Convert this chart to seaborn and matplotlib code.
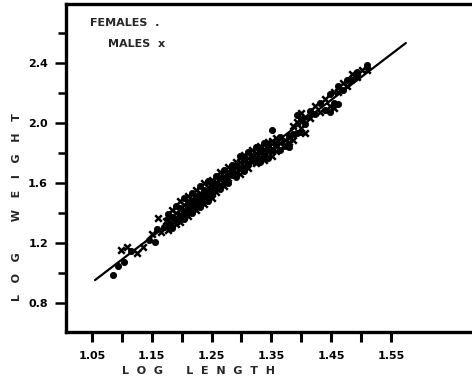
import matplotlib
matplotlib.use("Agg")
import matplotlib.pyplot as plt
import seaborn as sns
import pandas as pd

# ---- data ----
female_len = [1.085, 1.115, 1.104, 1.093, 1.145, 1.159, 1.155, 1.170,
              1.177, 1.177, 1.184, 1.184, 1.190, 1.190, 1.197, 1.197,
              1.204, 1.204, 1.204, 1.211, 1.211, 1.217, 1.217, 1.217,
              1.224, 1.224, 1.231, 1.231, 1.231, 1.237, 1.237, 1.244,
              1.244, 1.244, 1.251, 1.251, 1.257, 1.257, 1.264, 1.264,
              1.271, 1.271, 1.277, 1.277, 1.284, 1.284, 1.291, 1.291,
              1.297, 1.297, 1.304, 1.304, 1.311, 1.311, 1.318, 1.324,
              1.324, 1.331, 1.331, 1.338, 1.338, 1.344, 1.344, 1.351,
              1.351, 1.358, 1.364, 1.364, 1.373, 1.379, 1.379, 1.386,
              1.393, 1.393, 1.399, 1.399, 1.406, 1.415, 1.423, 1.431,
              1.440, 1.448, 1.448, 1.455, 1.461, 1.461, 1.470, 1.476,
              1.485, 1.493, 1.510]
female_wt = [0.987, 1.147, 1.073, 1.047, 1.220, 1.293, 1.207, 1.307,
             1.393, 1.313, 1.373, 1.300, 1.447, 1.360, 1.433, 1.360,
             1.500, 1.413, 1.360, 1.473, 1.407, 1.533, 1.460, 1.400,
             1.513, 1.447, 1.580, 1.500, 1.440, 1.553, 1.487, 1.613,
             1.540, 1.480, 1.587, 1.520, 1.647, 1.573, 1.633, 1.560,
             1.687, 1.613, 1.667, 1.600, 1.720, 1.653, 1.713, 1.640,
             1.780, 1.700, 1.753, 1.680, 1.807, 1.727, 1.780, 1.840,
             1.760, 1.813, 1.740, 1.867, 1.787, 1.840, 1.767, 1.953,
             1.820, 1.853, 1.907, 1.820, 1.847, 1.913, 1.840, 1.927,
             2.053, 1.933, 2.027, 1.940, 1.993, 2.080, 2.060, 2.133,
             2.087, 2.193, 2.073, 2.133, 2.247, 2.127, 2.220, 2.287,
             2.287, 2.340, 2.387]
male_len = [1.098, 1.109, 1.125, 1.135, 1.150, 1.160, 1.165, 1.174,
            1.177, 1.177, 1.184, 1.184, 1.190, 1.190, 1.197, 1.197,
            1.197, 1.204, 1.204, 1.211, 1.211, 1.211, 1.217, 1.217,
            1.224, 1.224, 1.224, 1.231, 1.231, 1.237, 1.237, 1.237,
            1.244, 1.244, 1.251, 1.251, 1.251, 1.257, 1.257, 1.264,
            1.264, 1.271, 1.271, 1.277, 1.277, 1.284, 1.291, 1.291,
            1.297, 1.297, 1.304, 1.304, 1.311, 1.311, 1.318, 1.318,
            1.324, 1.324, 1.331, 1.331, 1.338, 1.338, 1.344, 1.344,
            1.351, 1.351, 1.358, 1.358, 1.364, 1.373, 1.379, 1.386,
            1.386, 1.393, 1.399, 1.399, 1.406, 1.406, 1.415, 1.423,
            1.431, 1.440, 1.448, 1.455, 1.455, 1.461, 1.470, 1.476,
            1.485, 1.493, 1.502, 1.510]
male_wt = [1.153, 1.173, 1.133, 1.173, 1.260, 1.367, 1.273, 1.347,
           1.353, 1.287, 1.420, 1.327, 1.400, 1.327, 1.480, 1.393,
           1.340, 1.453, 1.380, 1.513, 1.440, 1.380, 1.493, 1.427,
           1.553, 1.480, 1.420, 1.533, 1.467, 1.600, 1.520, 1.460,
           1.573, 1.507, 1.620, 1.553, 1.500, 1.607, 1.540, 1.673,
           1.593, 1.647, 1.580, 1.707, 1.633, 1.687, 1.740, 1.673,
           1.740, 1.660, 1.787, 1.713, 1.767, 1.700, 1.820, 1.740,
           1.800, 1.733, 1.847, 1.773, 1.827, 1.753, 1.873, 1.807,
           1.880, 1.780, 1.900, 1.813, 1.867, 1.887, 1.873, 1.980,
           1.887, 2.007, 2.067, 1.967, 2.040, 1.933, 2.033, 2.113,
           2.073, 2.160, 2.113, 2.207, 2.100, 2.207, 2.267, 2.247,
           2.327, 2.307, 2.353, 2.353]
fit_len = [1.055, 1.575]
fit_wt = [0.953, 2.533]

x_major = [1.05, 1.15, 1.25, 1.35, 1.45, 1.55]
x_major_labels = ["1.05", "1.15", "1.25", "1.35", "1.45", "1.55"]
x_minor = [1.10, 1.20, 1.30, 1.40, 1.50]
y_major = [0.8, 1.2, 1.6, 2.0, 2.4]
y_major_labels = ["0.8", "1.2", "1.6", "2.0", "2.4"]
y_minor = [1.0, 1.4, 1.8, 2.2, 2.6]

females = pd.DataFrame({"len": female_len, "wt": female_wt})
males = pd.DataFrame({"len": male_len, "wt": male_wt})
fit = pd.DataFrame({"len": fit_len, "wt": fit_wt})

sns.set_style("ticks")
plt.rcParams["font.family"] = ["DejaVu Sans"]
plt.rcParams["font.weight"] = "bold"

W, H = 472, 383
fig = plt.figure(figsize=(W / 100, H / 100), dpi=100)
ax = fig.add_axes([66 / W, 1 - 332 / H, 411 / W, 328 / H])

sns.scatterplot(data=females, x="len", y="wt", ax=ax, marker="o", s=20,
                color="black", edgecolor="black", linewidth=0.6, legend=False)
sns.scatterplot(data=males, x="len", y="wt", ax=ax, marker="x", s=22,
                color="black", linewidth=1.8, legend=False)
sns.lineplot(data=fit, x="len", y="wt", ax=ax, color="black", linewidth=1.6,
             legend=False)

ax.set_xlim(1.0065, 1.694)
ax.set_ylim(0.607, 2.793)

ax.set_xticks(x_major)
ax.set_xticklabels(x_major_labels)
ax.set_xticks(x_minor, minor=True)
ax.set_yticks(y_major)
ax.set_yticklabels(y_major_labels)
ax.set_yticks(y_minor, minor=True)
ax.tick_params(axis="x", which="both", direction="out", colors="black",
               width=2.2, length=7, labelsize=8, pad=7,
               bottom=True, top=False, labelbottom=True)
ax.tick_params(axis="y", which="both", direction="out", colors="black",
               width=1.8, length=6, labelsize=8, pad=5,
               left=True, right=False)
ax.tick_params(axis="y", which="major", length=8)
for lab in ax.get_xticklabels() + ax.get_yticklabels():
    lab.set_fontweight("bold")

# explicit tick marks below the bottom axis (axis-coordinate tick strokes)
xtrans = ax.get_xaxis_transform()
for v in sorted(x_major + x_minor):
    ax.plot([v, v], [0.0, -0.022], transform=xtrans, color="black",
            linewidth=2.0, clip_on=False, solid_capstyle="butt")

for side in ["left", "bottom", "top"]:
    ax.spines[side].set_visible(True)
    ax.spines[side].set_color("black")
    ax.spines[side].set_linewidth(2.4)
ax.spines["right"].set_visible(False)

ax.set_xlabel("")
ax.set_ylabel("")
fig.text(198 / W, 1 - 371 / H, "L  O  G      L  E  N  G  T  H", ha="center",
         va="center", fontsize=8, fontweight="bold")
fig.text(17 / W, 1 - 207 / H, "L   O   G        W   E   I   G   H   T",
         ha="center", va="center", rotation=90, fontsize=8, fontweight="bold")

ax.text(0.059, 0.942, "FEMALES  .", transform=ax.transAxes, ha="left",
        va="center", fontsize=8, fontweight="bold")
ax.text(0.103, 0.878, "MALES  x", transform=ax.transAxes, ha="left",
        va="center", fontsize=8, fontweight="bold")

fig.savefig("out.png", dpi=100)
